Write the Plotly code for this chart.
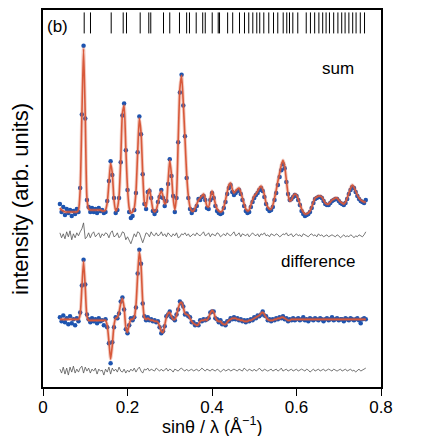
import numpy as np
import plotly.graph_objects as go

# measurement grid, sin(theta)/lambda in 1/A
Q_START = 0.040
Q_STEP = 0.004
N_POINTS = 182

# "sum" pattern: observed points, fitted curve, residual (obs - calc)
SUM_OBS = [
    184, 176, 181, 173, 179, 175, 178, 172, 177, 174,
    179, 176, 200, 274, 343, 270, 188, 181, 176, 180,
    176, 179, 175, 180, 177, 178, 175, 176, 187, 207,
    227, 213, 190, 175, 178, 190, 226, 273, 285, 238,
    198, 176, 170, 172, 178, 195, 236, 272, 254, 214,
    184, 179, 196, 197, 190, 177, 174, 177, 186, 191,
    198, 190, 182, 187, 204, 229, 212, 192, 176, 190,
    246, 296, 314, 283, 252, 210, 190, 179, 175, 178,
    178, 182, 189, 188, 191, 192, 188, 180, 179, 188,
    195, 190, 182, 177, 175, 174, 175, 180, 186, 194,
    200, 203, 196, 193, 195, 197, 198, 194, 188, 182,
    177, 175, 176, 181, 186, 190, 193, 195, 198, 200,
    197, 191, 184, 179, 177, 178, 181, 188, 195, 203,
    211, 218, 224, 220, 206, 194, 188, 189, 191, 193,
    192, 188, 183, 177, 174, 172, 173, 174, 176, 180,
    185, 189, 190, 191, 191, 190, 187, 184, 183, 183,
    185, 187, 188, 189, 189, 187, 185, 184, 183, 185,
    189, 194, 198, 201, 200, 196, 192, 189, 187, 186,
    185, 188,
]
SUM_CALC = [
    180, 178, 177, 176, 176, 176, 176, 176, 176, 176,
    176, 178, 198, 272, 340, 272, 190, 179, 178, 178,
    178, 178, 178, 178, 178, 177, 177, 178, 185, 205,
    225, 215, 188, 177, 180, 192, 228, 275, 283, 240,
    200, 180, 175, 176, 180, 196, 235, 270, 256, 215,
    186, 181, 194, 199, 189, 179, 176, 178, 185, 193,
    197, 192, 184, 186, 206, 228, 214, 190, 178, 192,
    248, 300, 313, 286, 250, 214, 192, 181, 177, 177,
    180, 184, 188, 190, 192, 194, 189, 182, 181, 190,
    197, 192, 184, 179, 177, 176, 177, 181, 188, 196,
    203, 205, 199, 195, 197, 199, 200, 196, 190, 184,
    179, 177, 178, 183, 188, 192, 194, 197, 200, 202,
    199, 193, 185, 181, 179, 179, 183, 190, 198, 207,
    215, 223, 228, 222, 208, 194, 187, 188, 192, 194,
    193, 189, 184, 179, 176, 174, 174, 175, 177, 181,
    186, 190, 191, 192, 192, 191, 188, 185, 184, 184,
    186, 188, 189, 190, 190, 188, 186, 185, 184, 186,
    190, 195, 200, 203, 201, 197, 193, 190, 188, 187,
    186, 186,
]
SUM_RES = [
    2, -3, 1, -4, 3, -2, 4, -5, 1, -3,
    2, -1, 3, 6, 12, -4, -2, 2, -3, 1,
    3, -2, 0, 2, -3, 1, -1, 2, 1, -3,
    2, 4, -2, -1, 2, -3, -1, 3, 2, -5,
    -2, -6, -9, -4, 1, -2, 3, 2, -4, -8,
    -3, 2, 1, -2, 3, 0, -1, 2, -1, 0,
    3, -1, 1, -2, 2, 0, -2, 1, -1, 2,
    -3, -2, 1, 0, 2, -1, 1, -2, 0, 1,
    -1, 2, 0, -1, 1, 3, -1, 0, 2, -2,
    1, 0, -1, 2, 1, -2, 0, 1, -1, 2,
    0, -1, 1, 3, -1, 0, 2, -2, 1, 0,
    -1, 1, -2, 0, 2, 0, -1, 1, -2, 1,
    0, 2, -1, 0, -2, 1, 0, -1, 1, 0,
    -2, -1, 1, 0, 2, -1, 0, 1, -2, 0,
    1, -1, 0, -2, 1, 0, -1, -2, 0, 1,
    -1, 0, -2, 1, -1, 0, -2, -1, 0, -2,
    -1, 0, -1, -2, 0, -1, -3, -1, 0, -2,
    -1, -2, 0, -1, -3, -1, -2, 0, -1, -2,
    0, 3,
]

# "difference" pattern
DIF_OBS = [
    70, 66, 72, 65, 69, 63, 71, 64, 68, 62,
    69, 66, 75, 102, 128, 103, 73, 68, 65, 69,
    66, 68, 64, 69, 66, 67, 62, 68, 60, 44,
    24, 45, 60, 70, 69, 74, 86, 90, 78, 58,
    54, 62, 69, 67, 70, 80, 114, 138, 124, 84,
    71, 67, 70, 67, 68, 66, 67, 65, 66, 60,
    54, 56, 61, 71, 73, 76, 70, 69, 67, 73,
    78, 86, 84, 81, 73, 74, 71, 70, 65, 65,
    62, 63, 62, 67, 66, 68, 67, 68, 69, 75,
    76, 76, 69, 68, 65, 67, 63, 64, 62, 66,
    66, 69, 68, 70, 68, 69, 67, 68, 66, 67,
    65, 67, 66, 68, 67, 70, 69, 72, 71, 73,
    76, 72, 71, 67, 68, 66, 68, 67, 69, 68,
    70, 69, 71, 68, 69, 66, 68, 67, 69, 67,
    68, 69, 67, 68, 70, 67, 68, 66, 69, 68,
    67, 69, 68, 67, 69, 68, 66, 68, 69, 67,
    68, 70, 67, 68, 69, 67, 68, 68, 66, 69,
    68, 67, 69, 68, 67, 68, 69, 67, 64, 68,
    69, 68,
]
DIF_CALC = [
    68, 68, 68, 68, 68, 68, 68, 68, 68, 68,
    68, 68, 73, 100, 126, 100, 71, 67, 67, 67,
    67, 67, 67, 67, 67, 67, 67, 67, 62, 46,
    28, 42, 62, 69, 70, 75, 84, 89, 80, 60,
    55, 63, 68, 68, 70, 82, 112, 136, 122, 86,
    70, 68, 69, 68, 67, 67, 66, 66, 65, 61,
    56, 55, 62, 70, 74, 75, 71, 68, 68, 72,
    79, 84, 85, 80, 74, 73, 72, 69, 66, 64,
    63, 62, 63, 66, 67, 67, 68, 67, 70, 74,
    77, 75, 70, 67, 66, 66, 64, 63, 63, 65,
    67, 68, 69, 69, 69, 68, 68, 67, 67, 66,
    66, 66, 67, 67, 68, 69, 70, 71, 72, 74,
    75, 73, 70, 68, 67, 67, 67, 68, 68, 69,
    69, 70, 70, 69, 68, 67, 67, 68, 68, 68,
    68, 68, 68, 68, 68, 68, 68, 68, 68, 68,
    68, 68, 68, 68, 68, 68, 68, 68, 68, 68,
    68, 68, 68, 68, 68, 68, 68, 68, 68, 68,
    68, 68, 68, 68, 68, 68, 68, 68, 68, 68,
    68, 68,
]
DIF_RES = [
    1, -3, 3, -4, 2, -5, 3, -2, 4, -3,
    1, -2, 2, 4, -3, 3, -1, 2, -3, 1,
    -1, 2, -4, 1, -1, 0, -5, 1, -2, 3,
    -4, 2, -1, 1, -2, 3, -1, -2, 1, -3,
    0, -2, 1, -1, 2, -2, 1, 3, -1, -3,
    1, 0, 2, -1, 1, 0, -1, 2, 0, -1,
    1, -1, 0, 2, -1, 1, 0, -2, 1, 0,
    -1, 1, 2, 0, -1, 1, -1, 0, 1, -1,
    0, 1, -1, 0, 2, 0, -1, 1, 0, -1,
    1, 0, -1, 1, 0, -2, 0, 1, -1, 0,
    1, -1, 0, 1, 0, -1, 1, 0, -1, 2,
    0, -1, 1, 0, -1, 1, -1, 0, 2, 0,
    -1, 1, 0, -1, 0, 1, -1, 0, 1, -1,
    0, 2, -1, 0, 1, -1, 0, 1, -1, 0,
    1, -1, 0, 1, 0, -1, 1, 0, -2, 0,
    1, -1, 0, 1, -1, 0, 1, -1, 0, 1,
    0, -1, 1, 0, -1, 0, 1, -1, 0, 1,
    -1, 0, 1, -1, 0, -2, 0, 1, -1, 0,
    1, 2,
]

# reflection positions (tick marks along the top)
REFL_POS = [
    0.0975, 0.1124, 0.1614, 0.1898, 0.1976, 0.2300, 0.2504, 0.2551, 0.2852, 0.3000,
    0.3230, 0.3400, 0.3467, 0.3626, 0.3780, 0.3840, 0.4005, 0.4147, 0.4178, 0.4370,
    0.4490, 0.4651, 0.4769, 0.4870, 0.4966, 0.5060, 0.5130, 0.5226, 0.5344, 0.5456,
    0.5557, 0.5685, 0.5770, 0.5834, 0.5913, 0.6030, 0.6230, 0.6330, 0.6430, 0.6530,
    0.6620, 0.6700, 0.6780, 0.6880, 0.6980, 0.7070, 0.7150, 0.7240, 0.7330, 0.7410,
    0.7510, 0.7610,
]

for arr in (SUM_OBS, SUM_CALC, SUM_RES, DIF_OBS, DIF_CALC, DIF_RES):
    assert len(arr) == N_POINTS, len(arr)

q = np.round(Q_START + Q_STEP * np.arange(N_POINTS), 4)

# vertical offsets of the residual traces
SUM_RES_OFFSET = 153
DIF_RES_OFFSET = 17
TICK_ROW = 366

BLUE = "#1d54b0"
RED = "#d8593a"
FONT = "Liberation Sans, Arial, sans-serif"

fig = go.Figure()

for obs, calc, res, off in ((SUM_OBS, SUM_CALC, SUM_RES, SUM_RES_OFFSET),
                            (DIF_OBS, DIF_CALC, DIF_RES, DIF_RES_OFFSET)):
    fig.add_trace(go.Scatter(x=q, y=np.array(res) + off, mode="lines",
                             line=dict(color="#555555", width=0.8)))
    fig.add_trace(go.Scatter(x=q, y=obs, mode="markers",
                             marker=dict(color=BLUE, size=4.5,
                                         line=dict(width=0))))
    fig.add_trace(go.Scatter(x=q, y=calc, mode="lines",
                             line=dict(color="rgba(216,89,58,0.3)", width=3.5,
                                       shape="spline", smoothing=0.6)))
    fig.add_trace(go.Scatter(x=q, y=calc, mode="lines",
                             line=dict(color=RED, width=1.6,
                                       shape="spline", smoothing=0.6)))

fig.add_trace(go.Scatter(x=REFL_POS, y=[TICK_ROW] * len(REFL_POS), mode="markers",
                         marker=dict(symbol="line-ns-open", size=15, color="black",
                                     line=dict(color="black", width=1))))

fig.add_annotation(x=0.0343, y=362, xref="x", yref="y", text="(b)",
                   showarrow=False, font=dict(size=17))
fig.add_annotation(x=0.699, y=320, xref="x", yref="y", text="sum",
                   showarrow=False, font=dict(size=17))
fig.add_annotation(x=0.652, y=126, xref="x", yref="y", text="difference",
                   showarrow=False, font=dict(size=17))
fig.add_annotation(x=-0.0666, y=0.50, xref="paper", yref="paper",
                   xanchor="center", yanchor="middle",
                   text="intensity (arb. units)", textangle=-90,
                   showarrow=False, font=dict(size=22))
fig.add_annotation(x=0.5, y=-0.103, xref="paper", yref="paper",
                   xanchor="center", yanchor="middle",
                   text="sin\u03b8 / \u03bb (\u00c5<sup>\u22121</sup>)",
                   showarrow=False, font=dict(size=18))

fig.update_layout(
    width=436, height=436,
    margin=dict(l=43, r=55, t=8, b=49),
    plot_bgcolor="white", paper_bgcolor="white",
    showlegend=False,
    font=dict(family=FONT, size=17, color="black"),
)
fig.update_xaxes(range=[0, 0.8], tickvals=[0, 0.2, 0.4, 0.6, 0.8],
                 ticktext=["0", "0.2", "0.4", "0.6", "0.8"],
                 ticks="outside", ticklen=7, tickwidth=1.2, tickcolor="black",
                 ticklabelstandoff=-3,
                 showline=True, linewidth=1.5, linecolor="black", mirror=True,
                 showgrid=False, zeroline=False)
fig.update_yaxes(range=[0, 379], showticklabels=False, ticks="",
                 showline=True, linewidth=1.5, linecolor="black", mirror=True,
                 showgrid=False, zeroline=False)

# page body has a default margin; drop it so the figure sits at the corner
fig.write_html("out.html", config={"displayModeBar": False},
               post_script="document.body.style.margin = '0';")
